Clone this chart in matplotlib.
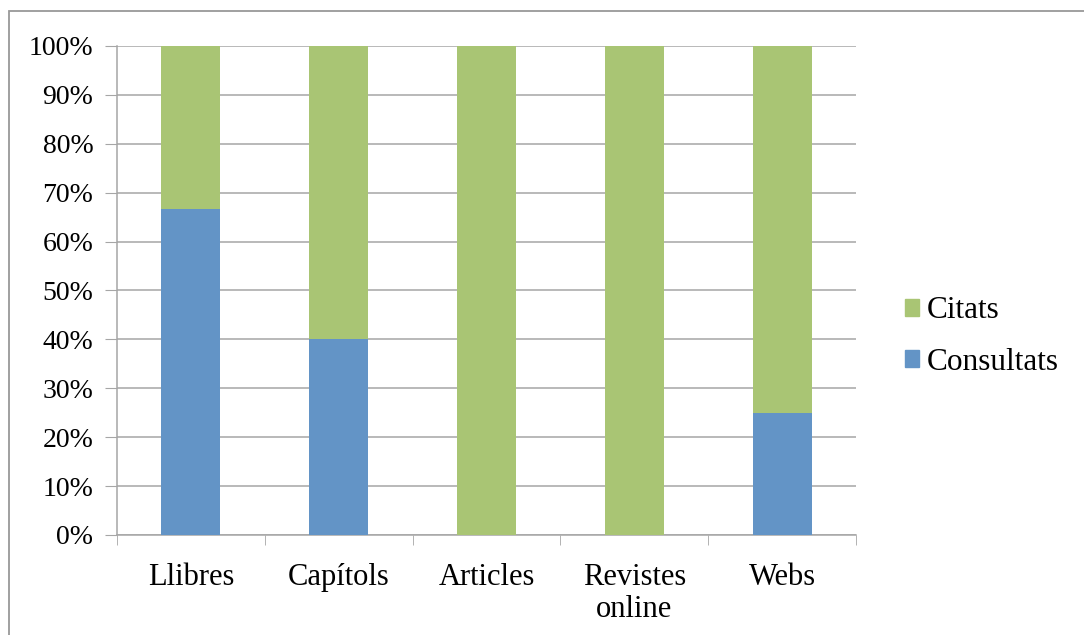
import matplotlib.pyplot as plt
from matplotlib.patches import Patch, Rectangle
import numpy as np

categories = ["Llibres", "Capítols", "Articles", "Revistes\nonline", "Webs"]
consultats = [66.7, 40, 0, 0, 25]
citats = [33.3, 60, 100, 100, 75]

blue = "#6394C6"
green = "#A9C574"
grid_gray = "#A6A6A6"

plt.rcParams['font.family'] = ['Liberation Serif', 'DejaVu Serif']

fig = plt.figure(figsize=(10.84, 6.35), dpi=100)
ax = fig.add_axes([0.1079, 0.1575, 0.6818, 0.7701])

x = np.arange(len(categories))
ax.bar(x, consultats, width=0.4, color=blue, zorder=3)
ax.bar(x, citats, width=0.4, bottom=consultats, color=green, zorder=3)

ax.set_xlim(-0.5, len(categories) - 0.5)
ax.set_ylim(0, 100)
ax.set_yticks(range(0, 101, 10))
ax.set_yticklabels([f"{v}%" for v in range(0, 101, 10)], fontsize=20)
ax.set_xticks(x)
ax.set_xticklabels(categories, fontsize=22, linespacing=1.15)
ax.set_xticks(np.arange(-0.5, len(categories), 1), minor=True)
ax.tick_params(axis='x', which='major', length=0, pad=20)
ax.tick_params(axis='x', which='minor', length=7, color=grid_gray, direction='out')
ax.tick_params(axis='y', length=9, color=grid_gray, pad=8)

ax.yaxis.grid(True, color=grid_gray, linewidth=1.1, zorder=0)
ax.set_axisbelow(True)
for side in ['top', 'right']:
    ax.spines[side].set_visible(False)
for side in ['left', 'bottom']:
    ax.spines[side].set_color(grid_gray)
    ax.spines[side].set_linewidth(1.1)

handles = [Patch(color=green, label="Citats"), Patch(color=blue, label="Consultats")]
fig.legend(handles=handles, loc='center left', bbox_to_anchor=(905 / 1084, 0.47),
           frameon=False, fontsize=22.5, handlelength=0.45, handleheight=0.45,
           handletextpad=0.25, labelspacing=0.72, borderpad=0, borderaxespad=0)

# outer frame (only left and top edges visible in the crop)
fig.patches.append(Rectangle((8.5 / 1084, -0.1), 1.2, 1.1 - 11.5 / 635,
                             transform=fig.transFigure, fill=False,
                             edgecolor="#999999", linewidth=1.3))

fig.savefig("out.png", dpi=100)
